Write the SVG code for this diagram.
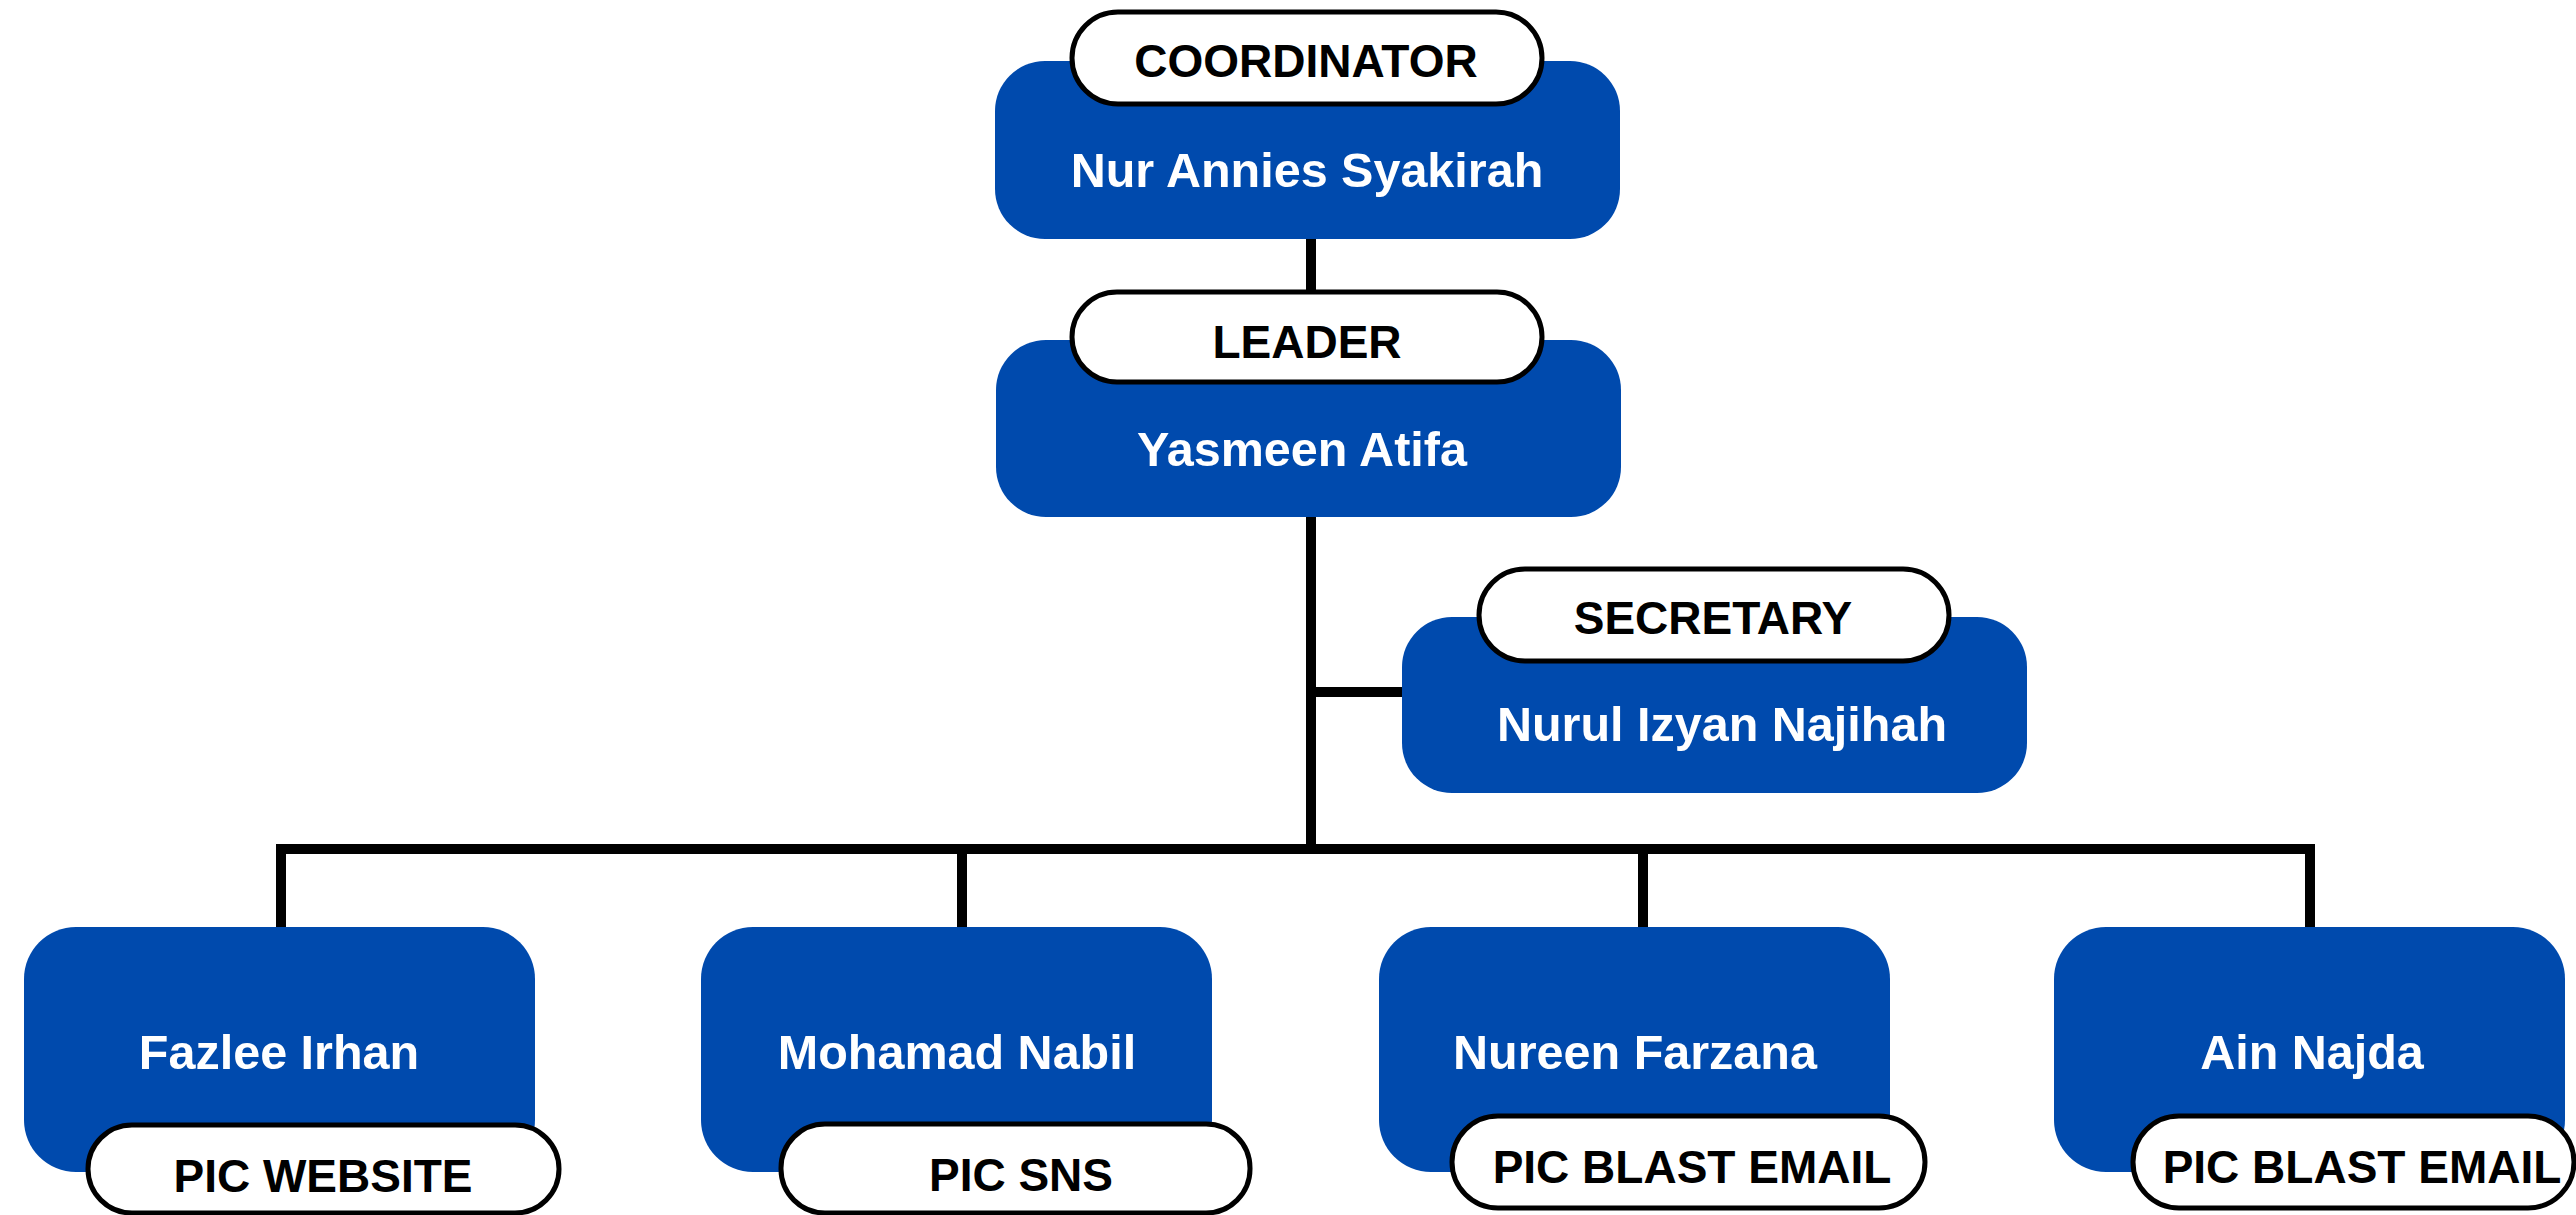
<svg xmlns="http://www.w3.org/2000/svg" width="2576" height="1215" viewBox="0 0 2576 1215">
<style>
.box{fill:#004AAD}
.pill{fill:#ffffff;stroke:#000000;stroke-width:5}
.name{font-family:"Liberation Sans",Arial,sans-serif;font-weight:bold;font-size:48.5px;fill:#ffffff;text-anchor:middle}
.lbl{font-family:"Liberation Sans",Arial,sans-serif;font-weight:bold;font-size:46px;fill:#000000;text-anchor:middle}
.ln{stroke:#000000;stroke-width:10;fill:none;stroke-linecap:square;stroke-linejoin:miter}
</style>
<rect width="2576" height="1215" fill="#ffffff"/>
<g id="connectors">
<line class="ln" x1="1311" y1="238" x2="1311" y2="292"/>
<line class="ln" x1="1311" y1="517" x2="1311" y2="849"/>
<line class="ln" x1="1311" y1="692" x2="1400" y2="692"/>
<polyline class="ln" points="281,926 281,849 2310,849 2310,926"/>
<line class="ln" x1="962" y1="849" x2="962" y2="926"/>
<line class="ln" x1="1643" y1="849" x2="1643" y2="926"/>
</g>
<g id="coordinator">
<rect class="box" x="995" y="61" width="625" height="178" rx="50"/>
<rect class="pill" x="1072" y="12" width="470" height="92" rx="46"/>
<text class="lbl" x="1306" y="77">COORDINATOR</text>
<text class="name" x="1307" y="187">Nur Annies Syakirah</text>
</g>
<g id="leader">
<rect class="box" x="996" y="340" width="625" height="177" rx="50"/>
<rect class="pill" x="1072" y="292" width="470" height="90" rx="45"/>
<text class="lbl" x="1307" y="358">LEADER</text>
<text class="name" x="1302" y="466">Yasmeen Atifa</text>
</g>
<g id="secretary">
<rect class="box" x="1402" y="617" width="625" height="176" rx="50"/>
<rect class="pill" x="1479" y="569" width="470" height="92" rx="46"/>
<text class="lbl" x="1713" y="634">SECRETARY</text>
<text class="name" x="1722" y="741">Nurul Izyan Najihah</text>
</g>
<g id="fazlee">
<rect class="box" x="24" y="927" width="511" height="245" rx="52"/>
<rect class="pill" x="88" y="1125" width="471" height="88" rx="44"/>
<text class="name" x="279" y="1069">Fazlee Irhan</text>
<text class="lbl" x="323" y="1192">PIC WEBSITE</text>
</g>
<g id="mohamad">
<rect class="box" x="701" y="927" width="511" height="245" rx="52"/>
<rect class="pill" x="781" y="1124" width="469" height="89" rx="44"/>
<text class="name" x="957" y="1069">Mohamad Nabil</text>
<text class="lbl" x="1021" y="1191">PIC SNS</text>
</g>
<g id="nureen">
<rect class="box" x="1379" y="927" width="511" height="245" rx="52"/>
<rect class="pill" x="1452" y="1116" width="473" height="92" rx="46"/>
<text class="name" x="1635" y="1069">Nureen Farzana</text>
<text class="lbl" x="1692" y="1183">PIC BLAST EMAIL</text>
</g>
<g id="ain">
<rect class="box" x="2054" y="927" width="511" height="245" rx="52"/>
<rect class="pill" x="2133" y="1116" width="441" height="92" rx="46"/>
<text class="name" x="2312" y="1069">Ain Najda</text>
<text class="lbl" x="2362" y="1183">PIC BLAST EMAIL</text>
</g>
</svg>
